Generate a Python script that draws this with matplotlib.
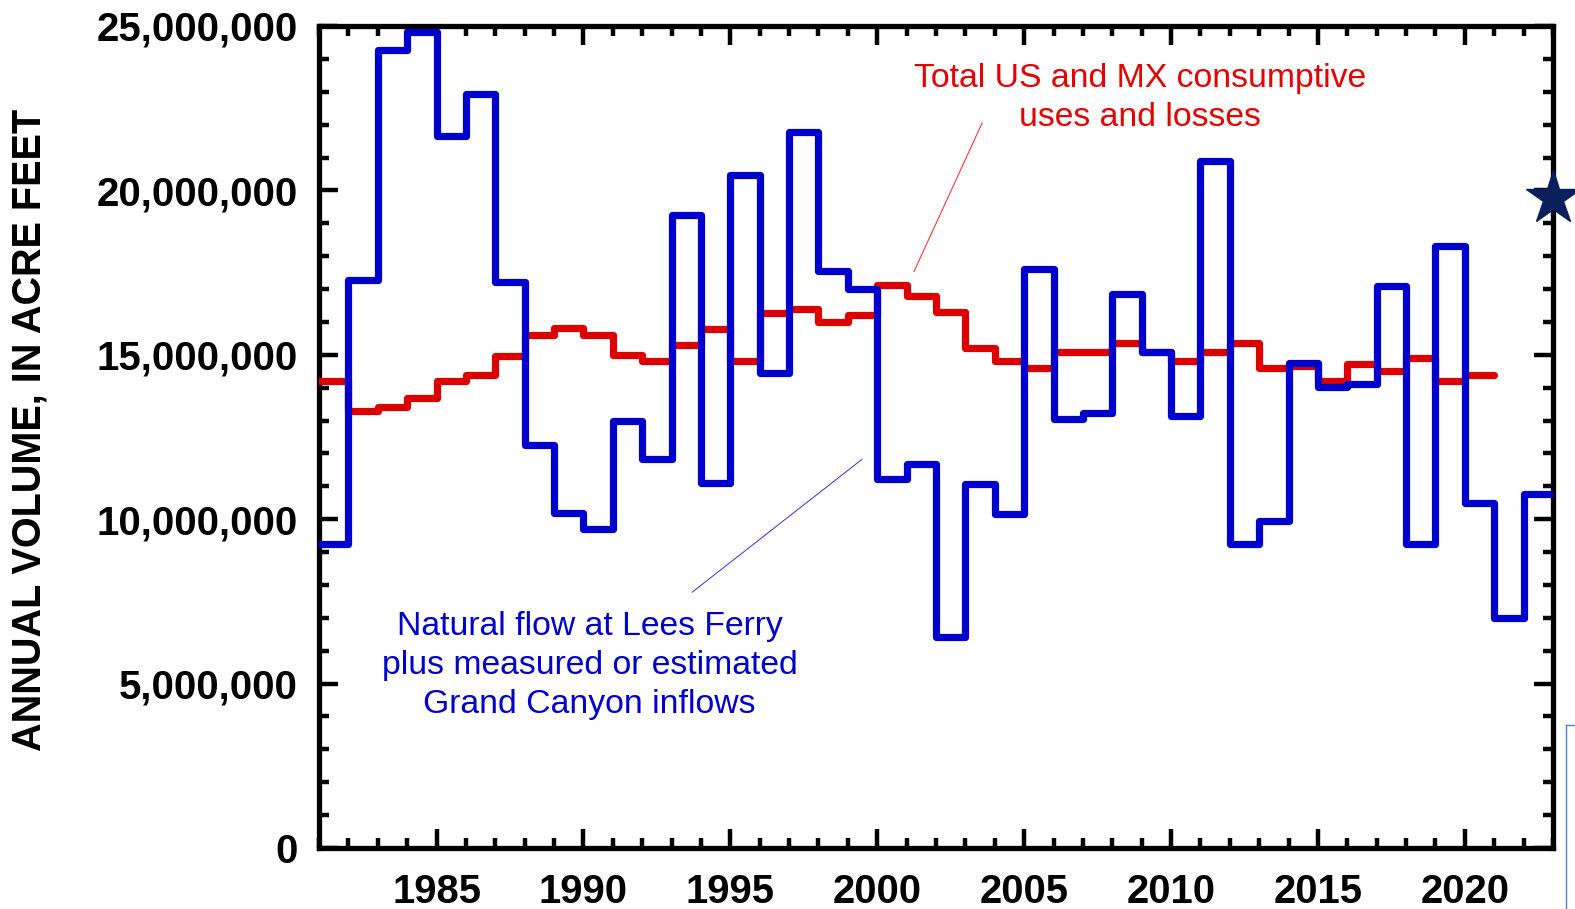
import matplotlib
matplotlib.use("Agg")
import matplotlib.pyplot as plt
from matplotlib import font_manager as fm
from matplotlib.ticker import MultipleLocator, FuncFormatter
from matplotlib.lines import Line2D

# ---------------- data ----------------
blue_years = list(range(1981, 2023))
natural_flow = [9.26, 17.27, 24.27, 24.81, 21.66, 22.93, 17.22, 12.27, 10.20, 9.70,
                12.98, 11.82, 19.24, 11.09, 20.48, 14.46, 21.77, 17.55, 17.01, 11.21,
                11.67, 6.42, 11.08, 10.15, 17.60, 13.06, 13.23, 16.84, 15.10, 13.15,
                20.88, 9.24, 9.94, 14.74, 14.03, 14.12, 17.09, 9.25, 18.31, 10.49,
                6.98, 10.77]  # million acre-feet

red_years = list(range(1981, 2021))
consumptive = [14.19, 13.28, 13.41, 13.69, 14.19, 14.39, 14.97, 15.59, 15.81, 15.61,
               14.98, 14.80, 15.30, 15.79, 14.80, 16.28, 16.38, 15.99, 16.21, 17.11,
               16.79, 16.30, 15.20, 14.80, 14.60, 15.10, 15.10, 15.37, 15.10, 14.80,
               15.10, 15.37, 14.60, 14.65, 14.19, 14.73, 14.50, 14.90, 14.19, 14.40]

star_year = 2023
star_value = 19.77

red_label = ["Total US and MX consumptive", "uses and losses"]
blue_label = ["Natural flow at Lees Ferry", "plus measured or estimated",
              "Grand Canyon inflows"]
ylabel_text = "ANNUAL VOLUME, IN ACRE FEET"

# ---------------- fonts ----------------
names = {f.name for f in fm.fontManager.ttflist}
bold_font = "Liberation Sans" if "Liberation Sans" in names else "DejaVu Sans"
narrow = "Liberation Sans Narrow" if "Liberation Sans Narrow" in names else None

W, H = 1575, 909
fig = plt.figure(figsize=(W / 100, H / 100), dpi=100)
L, R, T, B = 319, 1553, 26, 848
ax = fig.add_axes([L / W, 1 - B / H, (R - L) / W, (B - T) / H])

def steps(xs, ys):
    x = [v for v in xs] + [xs[-1] + 1]
    y = [v * 1e6 for v in ys] + [ys[-1] * 1e6]
    return x, y

rx, ry = steps(red_years, consumptive)
ax.step(rx, ry, where="post", color="#dd0000", lw=5.2,
        solid_joinstyle="round", solid_capstyle="round", zorder=3)
bx, by = steps(blue_years, natural_flow)
ax.step(bx, by, where="post", color="#0000cc", lw=5.2,
        solid_joinstyle="round", solid_capstyle="round", zorder=4)

ax.plot([star_year], [star_value * 1e6], marker="*", ms=41, color="#0b1f5c",
        clip_on=False, zorder=10, lw=0)

ax.set_xlim(1981, 2023)
ax.set_ylim(0, 25e6)

ax.xaxis.set_major_locator(MultipleLocator(5))
ax.xaxis.set_minor_locator(MultipleLocator(1))
ax.yaxis.set_major_locator(MultipleLocator(5e6))
ax.yaxis.set_minor_locator(MultipleLocator(1e6))
ax.yaxis.set_major_formatter(FuncFormatter(lambda v, p: f"{int(round(v)):,}"))

for s in ax.spines.values():
    s.set_linewidth(3.8)
ax.tick_params(which="both", direction="in", top=True, right=True, width=3.2,
               color="black")
ax.tick_params(which="major", length=13.5)
ax.tick_params(which="minor", length=7.2)
ax.tick_params(axis="x", which="major", pad=18)
ax.tick_params(axis="y", which="major", pad=15.5)
for lab in ax.get_xticklabels():
    lab.set_fontfamily(bold_font)
    lab.set_fontweight("bold")
    lab.set_fontsize(28.8)
for lab in ax.get_yticklabels():
    lab.set_fontfamily(bold_font)
    lab.set_fontweight("bold")
    lab.set_fontsize(29)

# y label
if narrow:
    fig.text(30 / W, 1 - 430 / H, ylabel_text, rotation=90, ha="center",
             va="center", fontfamily=narrow, fontweight="bold", fontsize=34.5)
else:
    fig.text(30 / W, 1 - 430 / H, ylabel_text, rotation=90, ha="center",
             va="center", fontfamily=bold_font, fontweight="bold", fontsize=28.5)

# annotations (text)
for i, line in enumerate(red_label):
    fig.text(1140 / W, 1 - (87 + 39 * i) / H, line, ha="center", va="baseline",
             color="#e60000", fontfamily=bold_font, fontsize=24.3)
for i, line in enumerate(blue_label):
    fig.text(589.5 / W, 1 - (635 + 39 * i) / H, line, ha="center", va="baseline",
             color="#0000cc", fontfamily=bold_font, fontsize=24.3)

# leader lines
ax.plot([2001.25, 2003.57], [17.53e6, 22.05e6], color="#ff2020", lw=0.7, zorder=5)
ax.plot([1993.70, 1999.48], [7.78e6, 11.82e6], color="#3030e0", lw=0.7, zorder=5)

# frame fragment of neighbouring slide object (bottom right)
fig.add_artist(Line2D([1566 / W, 1566 / W], [0, 1 - 725 / H], color="#5b7fc7", lw=1))
fig.add_artist(Line2D([1566 / W, 1], [1 - 725 / H, 1 - 725 / H], color="#5b7fc7", lw=1))

fig.savefig("out.png", dpi=100)
